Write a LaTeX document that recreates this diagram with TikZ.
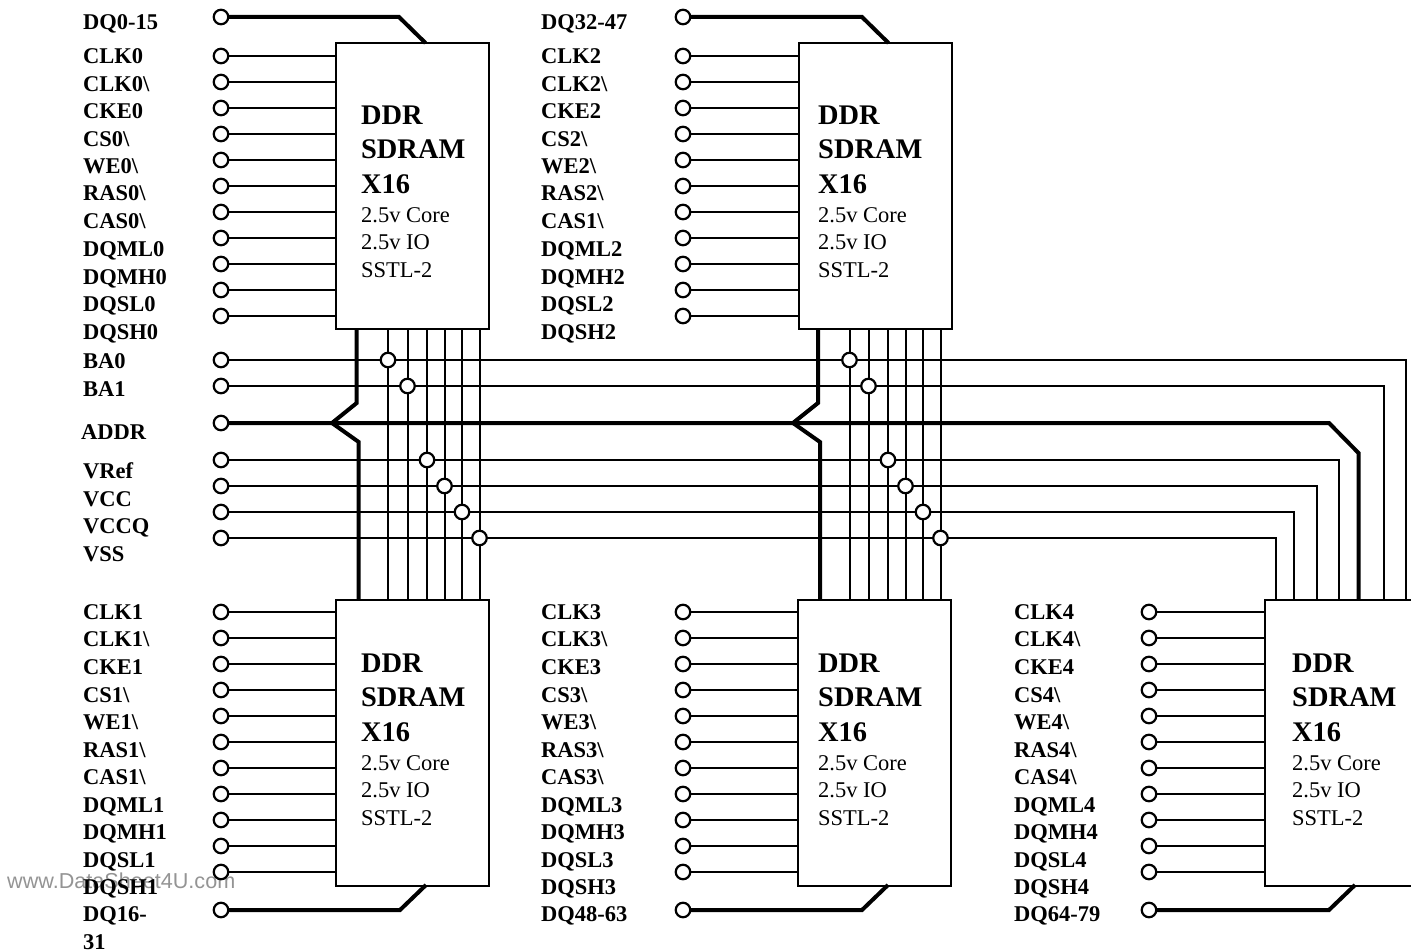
\documentclass[tikz,border=0pt]{standalone}
\usepackage{fontspec}
\setmainfont{Liberation Serif}
\newfontfamily\wmfont{Liberation Sans}
% name, box x, box y, box width, text x, text baseline y
\newcommand{\chipbox}[6]{%
  \node[chipbox,minimum width=#4pt,anchor=north west] (#1) at (#2,#3) {};
  \node[chiptitle] (#1a) at (#5,#6) {DDR};
  \node[chiptitle] (#1b) at (#5,#6+34) {SDRAM};
  \node[chiptitle] (#1c) at (#5,#6+69) {X16};
  \node[chipnote] (#1d) at (#5,#6+98) {2.5v Core};
  \node[chipnote] (#1e) at (#5,#6+125) {2.5v IO};
  \node[chipnote] (#1f) at (#5,#6+152.5) {SSTL-2};
}
\newcommand{\siglabel}[3]{\node[siglabel] at (#1,#2) {#3};}
\newcommand{\pinrow}[4]{% prefix, x, y0, chip
  \foreach \n/\yy in {1/0,2/26,3/52,4/78,5/104,6/130,7/156,8/182,9/208,10/234,11/260}{
    \node[pin] (#1\n) at (#2,#3+\yy) {};
    \draw[thinline] (#1\n.east) -- (#1\n.east -| #4.west);
  }
}
\begin{document}
\begin{tikzpicture}[x=1pt,y=-1pt,
  chipbox/.style={draw=black,line width=2pt,fill=white,rectangle,minimum height=285.5pt,inner sep=0pt,outer sep=0pt},
  chiptitle/.style={anchor=base west,inner sep=0pt,font=\fontsize{28.4}{32}\selectfont\bfseries},
  chipnote/.style={anchor=base west,inner sep=0pt,font=\fontsize{22.5}{26}\selectfont},
  siglabel/.style={anchor=base west,inner sep=0pt,font=\fontsize{22.5}{26}\selectfont\bfseries},
  pin/.style={circle,draw=black,line width=2.2pt,fill=white,minimum size=14.5pt,inner sep=0pt,outer sep=0pt},
  thinline/.style={draw=black,line width=2pt},
  busline/.style={draw=black,line width=4pt,line join=miter},
]
\useasboundingbox (0,0) rectangle (1411,952);
\clip (0,0) rectangle (1411,952);
\fill[white] (0,0) rectangle (1411,952);

\node[anchor=base west,inner sep=0pt,text=black!42,font=\wmfont\fontsize{21.6}{24}\selectfont] (wm) at (7,888) {www.DataSheet4U.com};

% chips
\chipbox{ca}{336}{43.5}{153}{361}{125}
\chipbox{cb}{798.5}{43.5}{153}{818}{125}
\chipbox{cc}{336}{600}{153}{361}{672.5}
\chipbox{cd}{797.5}{600}{153}{818}{672.5}
\chipbox{ce}{1264.5}{600}{160}{1292}{672.5}

% control pins
\pinrow{pa}{221}{56}{ca}
\pinrow{pb}{683}{56}{cb}
\pinrow{pc}{221}{612}{cc}
\pinrow{pd}{683}{612}{cd}
\pinrow{pe}{1149}{612}{ce}

% shared pins
\node[pin] (ba0) at (221,360) {};
\node[pin] (ba1) at (221,386) {};
\node[pin] (addr) at (221,423) {};
\node[pin] (vref) at (221,460) {};
\node[pin] (vcc) at (221,486) {};
\node[pin] (vccq) at (221,512) {};
\node[pin] (vss) at (221,538) {};

% DQ pins
\node[pin] (dqa) at (221,17) {};
\node[pin] (dqb) at (683,17) {};
\node[pin] (dqc) at (221,910) {};
\node[pin] (dqd) at (683,910) {};
\node[pin] (dqe) at (1149,910) {};

% junctions
\foreach \nm/\xa/\xb/\yy in {ba0/388/849.5/360,ba1/407.5/868.5/386,vref/427/888/460,vcc/444.5/905.5/486,vccq/462/923/512,vss/479.5/940.5/538}{
  \node[pin] (j\nm a) at (\xa,\yy) {};
  \node[pin] (j\nm b) at (\xb,\yy) {};
  \draw[thinline] (\nm.east) -- (j\nm a.west);
  \draw[thinline] (j\nm a.east) -- (j\nm b.west);
  \draw[thinline] (j\nm a.north) -- (j\nm a.north |- ca.south);
  \draw[thinline] (j\nm a.south) -- (j\nm a.south |- cc.north);
  \draw[thinline] (j\nm b.north) -- (j\nm b.north |- cb.south);
  \draw[thinline] (j\nm b.south) -- (j\nm b.south |- cd.north);
}
% runs to the fifth chip
\foreach \nm/\xc in {ba0/1406,ba1/1384,vref/1339,vcc/1317,vccq/1294,vss/1275.5}{
  \coordinate (r\nm) at (\xc,0);
  \draw[thinline] (j\nm b.east) -- (j\nm b.east -| r\nm) -- (r\nm |- ce.north);
}

% address bus
\coordinate (jogatop) at (356.7,403);
\coordinate (jogatip) at (332,423);
\coordinate (jogabot) at (358.7,442);
\coordinate (jogbtop) at (818,403);
\coordinate (jogbtip) at (793,423);
\coordinate (jogbbot) at (820,442);
\coordinate (busend) at (1329,423);
\coordinate (busdown) at (1358.5,453);
\draw[busline] (addr.east) -- (busend) -- (busdown) -- (busdown |- ce.north);
\draw[busline] (jogatop |- ca.south) -- (jogatop) -- (jogatip) -- (jogabot) -- (jogabot |- cc.north);
\draw[busline] (jogbtop |- cb.south) -- (jogbtop) -- (jogbtip) -- (jogbbot) -- (jogbbot |- cd.north);

% DQ buses
\coordinate (dqat) at (399,17);
\coordinate (dqae) at (425.5,43);
\coordinate (dqbt) at (862,17);
\coordinate (dqbe) at (888.5,43);
\coordinate (dqct) at (400,910);
\coordinate (dqce) at (426,885);
\coordinate (dqdt) at (862,910);
\coordinate (dqde) at (888,885);
\coordinate (dqet) at (1329,910);
\coordinate (dqee) at (1355,885);
\draw[busline] (dqa.east) -- (dqat) -- (dqae);
\draw[busline] (dqb.east) -- (dqbt) -- (dqbe);
\draw[busline] (dqc.east) -- (dqct) -- (dqce);
\draw[busline] (dqd.east) -- (dqdt) -- (dqde);
\draw[busline] (dqe.east) -- (dqet) -- (dqee);

% labels, first column
\foreach \t/\yy in {DQ0-15/30,CLK0/64,CLK0\textbackslash/92,CKE0/119,CS0\textbackslash/147,WE0\textbackslash/174,RAS0\textbackslash/201,CAS0\textbackslash/229,DQML0/256,DQMH0/284,DQSL0/311.5,DQSH0/339,BA0/368,BA1/396,VRef/478,VCC/506,VCCQ/533,VSS/561,CLK1/619,CLK1\textbackslash/646,CKE1/674,CS1\textbackslash/702,WE1\textbackslash/729,RAS1\textbackslash/757,CAS1\textbackslash/784,DQML1/812,DQMH1/839,DQSL1/867,DQSH1/894,DQ16-/921.5,31/949}{
  \siglabel{83}{\yy}{\t}
}
\siglabel{81}{439}{ADDR}
% second column
\foreach \t/\yy in {DQ32-47/30,CLK2/64,CLK2\textbackslash/92,CKE2/119,CS2\textbackslash/147,WE2\textbackslash/174,RAS2\textbackslash/201,CAS1\textbackslash/229,DQML2/256,DQMH2/284,DQSL2/311.5,DQSH2/339,CLK3/619,CLK3\textbackslash/646,CKE3/674,CS3\textbackslash/702,WE3\textbackslash/729,RAS3\textbackslash/757,CAS3\textbackslash/784,DQML3/812,DQMH3/839,DQSL3/867,DQSH3/894,DQ48-63/921.5}{
  \siglabel{541}{\yy}{\t}
}
% third column
\foreach \t/\yy in {CLK4/619,CLK4\textbackslash/646,CKE4/674,CS4\textbackslash/702,WE4\textbackslash/729,RAS4\textbackslash/757,CAS4\textbackslash/784,DQML4/812,DQMH4/839,DQSL4/867,DQSH4/894,DQ64-79/921.5}{
  \siglabel{1014}{\yy}{\t}
}
\end{tikzpicture}
\end{document}
